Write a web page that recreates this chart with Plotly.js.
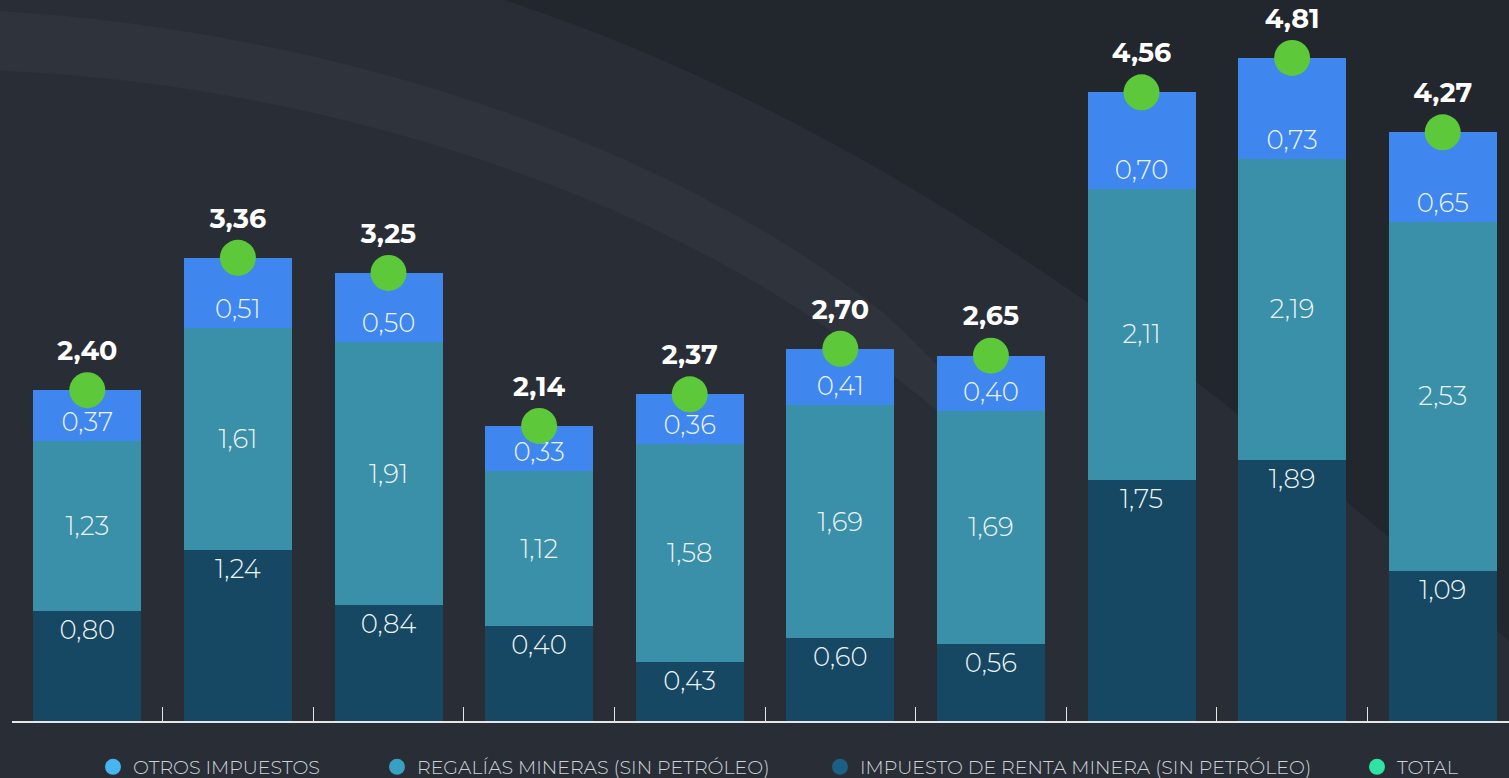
<!DOCTYPE html>
<html>
<head>
<meta charset="utf-8">
<script src="https://cdn.plot.ly/plotly-3.0.1.min.js"></script>
<style>
  html, body { margin: 0; padding: 0; background: #252a31; }
  #chart { width: 1509px; height: 778px; }
</style>
</head>
<body>
<div id="chart"></div>
<script>
// ---- Data ----
const categories = ["B1", "B2", "B3", "B4", "B5", "B6", "B7", "B8", "B9", "B10"];
// Impuesto de renta minera (sin petróleo): drawn heights and printed labels
const rentaValues = [0.80, 1.24, 0.84, 0.69, 0.43, 0.60, 0.56, 1.75, 1.89, 1.09];
const rentaLabels = ["0,80", "1,24", "0,84", "0,40", "0,43", "0,60", "0,56", "1,75", "1,89", "1,09"];
// Regalías mineras (sin petróleo)
const regaliasValues = [1.23, 1.61, 1.91, 1.12, 1.58, 1.69, 1.69, 2.11, 2.19, 2.53];
// Otros impuestos
const otrosValues = [0.37, 0.51, 0.50, 0.33, 0.36, 0.41, 0.40, 0.70, 0.73, 0.65];
// Total
const totalValues = [2.40, 3.36, 3.25, 2.14, 2.37, 2.70, 2.65, 4.56, 4.81, 4.27];

const seriesNames = ["OTROS IMPUESTOS", "REGALÍAS MINERAS (SIN PETRÓLEO)", "IMPUESTO DE RENTA MINERA (SIN PETRÓLEO)", "TOTAL"];

const fmt = v => v.toFixed(2).replace(".", ",");

// ---- Styles ----
const FONT = "Montserrat, Lato, 'Open Sans', sans-serif";
const barW = 0.717;
const colRenta = "#174863", colReg = "#3a8fa9", colOtros = "#3f87ef", colDot = "#5cc83a";
const legendColors = ["#47b5f0", "#3aa0c2", "#1b5f85", "#2fe3a5"];
const labelFont = { family: FONT, size: 26, color: "#eef5f8", weight: 300 };

const traces = [
  {
    type: "bar", x: categories, y: rentaValues, width: barW,
    marker: { color: colRenta },
    text: rentaLabels, texttemplate: "%{text}", textposition: "inside", insidetextanchor: "end",
    textangle: 0, constraintext: "none", insidetextfont: labelFont,
    showlegend: false, hoverinfo: "skip"
  },
  {
    type: "bar", x: categories, y: regaliasValues, width: barW,
    marker: { color: colReg },
    text: regaliasValues.map(fmt), texttemplate: "%{text}", textposition: "inside", insidetextanchor: "middle",
    textangle: 0, constraintext: "none", insidetextfont: labelFont,
    showlegend: false, hoverinfo: "skip"
  },
  {
    type: "bar", x: categories, y: otrosValues, width: barW,
    marker: { color: colOtros },
    text: otrosValues.map(fmt), texttemplate: "%{text}", textposition: "inside", insidetextanchor: "start",
    textangle: 0, constraintext: "none", insidetextfont: labelFont,
    showlegend: false, hoverinfo: "skip"
  },
  {
    type: "scatter", mode: "markers+text", x: categories, y: totalValues,
    marker: { color: colDot, size: 36 },
    text: totalValues.map(fmt), textposition: "top center",
    textfont: { family: FONT, size: 27, color: "#ffffff", weight: "bold" },
    cliponaxis: false, showlegend: false, hoverinfo: "skip"
  }
];

// legend-only traces (circle markers), each in its own positioned legend
const legendIds = ["legend", "legend2", "legend3", "legend4"];
seriesNames.forEach((name, i) => {
  traces.push({
    type: "scatter", mode: "markers", x: [null], y: [null], name: name,
    marker: { color: legendColors[i], size: 17 },
    legend: legendIds[i], showlegend: true, hoverinfo: "skip"
  });
});

const legendX = [93, 377, 820, 1357];
const legendBase = (px) => ({
  x: px / 1509, xref: "container", xanchor: "left",
  y: 1 - 767 / 778, yref: "container", yanchor: "middle",
  orientation: "h", bgcolor: "rgba(0,0,0,0)",
  font: { family: FONT, size: 19, color: "#cfd3d8", weight: 300 },
  itemclick: false, itemdoubleclick: false
});

// background bands (pixel points -> paper coordinates)
const L = 12, PW = 1497, PH = 721;
const px = (x) => ((x - L) / PW).toFixed(4);
const py = (y) => ((PH - y) / PH).toFixed(4);
const pathFrom = (cmds) => cmds.map(c => c[0] + " " + c.slice(1).map((v, k) => k % 2 === 0 ? px(v) : py(v)).join(",")).join(" ");

const shapes = [
  {
    type: "path", xref: "paper", yref: "paper", layer: "below", line: { width: 0 },
    fillcolor: "#292e36",
    path: pathFrom([["M", -20, -20], ["L", 440, -20], ["C", 820, 90, 1150, 320, 1530, 660], ["L", 1530, 800], ["L", -20, 800], ["Z"]])
  },
  {
    type: "path", xref: "paper", yref: "paper", layer: "below", line: { width: 0 },
    fillcolor: "#2e333c",
    path: pathFrom([["M", -20, 10], ["C", 300, 25, 650, 130, 880, 310], ["C", 960, 380, 1010, 450, 1040, 520],
                    ["C", 990, 450, 920, 390, 800, 310], ["C", 600, 180, 300, 80, -20, 70], ["Z"]])
  }
];

const layout = {
  width: 1509, height: 778,
  paper_bgcolor: "#22262d", plot_bgcolor: "rgba(0,0,0,0)",
  margin: { l: L, r: 0, t: 0, b: 57, pad: 0 },
  barmode: "stack", bargap: 0.28,
  font: { family: FONT, color: "#ffffff" },
  xaxis: {
    type: "category", range: [-0.5, 9.44], showgrid: false, zeroline: false,
    showline: true, linecolor: "#e6e6e6", linewidth: 2,
    ticks: "inside", tickson: "boundaries", ticklen: 14, tickcolor: "#e6e6e6", tickwidth: 1,
    showticklabels: false, fixedrange: true
  },
  yaxis: {
    range: [0, 5.23], showgrid: false, zeroline: false, showline: false,
    showticklabels: false, ticks: "", fixedrange: true
  },
  showlegend: true,
  legend: legendBase(legendX[0]),
  legend2: legendBase(legendX[1]),
  legend3: legendBase(legendX[2]),
  legend4: legendBase(legendX[3]),
  shapes: shapes,
  hovermode: false
};

Plotly.newPlot("chart", traces, layout, { displayModeBar: false, staticPlot: true });
</script>
</body>
</html>
